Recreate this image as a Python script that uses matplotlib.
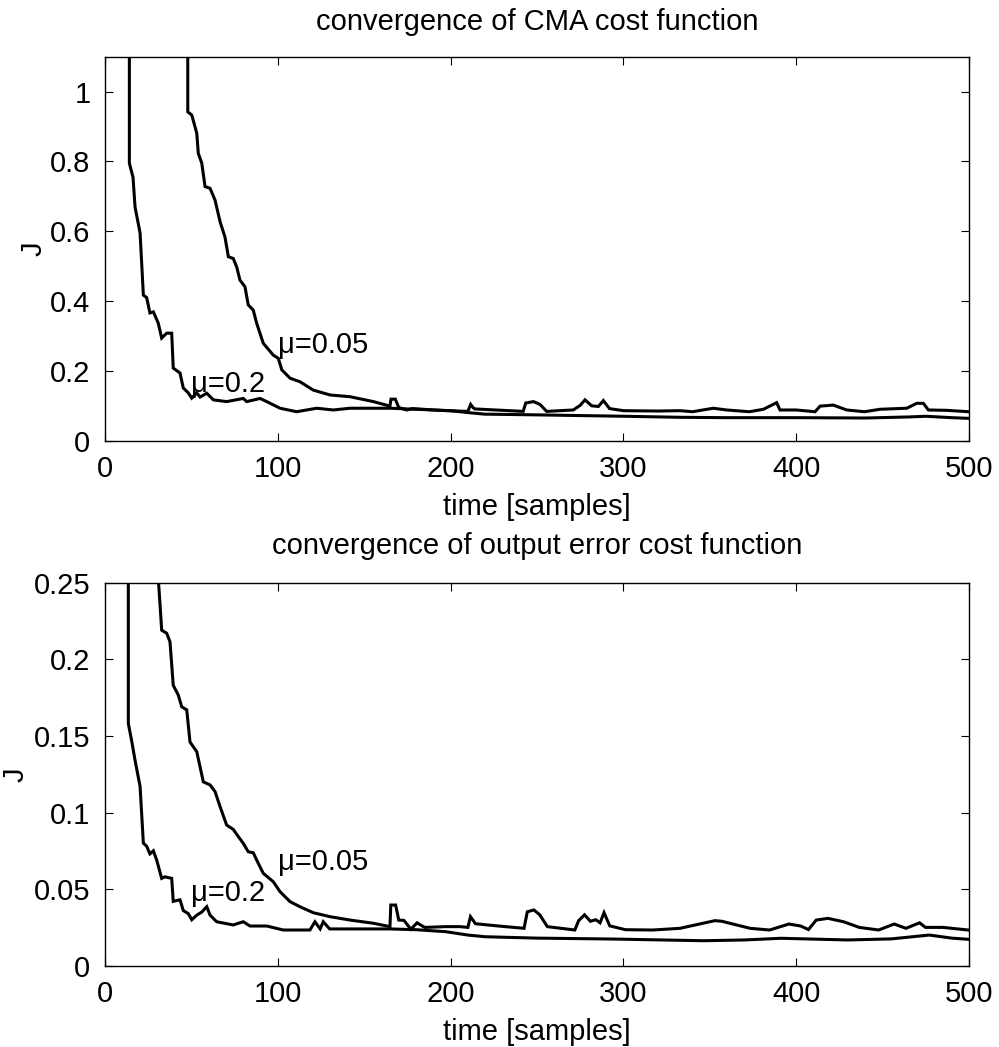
import matplotlib
matplotlib.use("Agg")
import matplotlib.pyplot as plt

plt.rcParams['font.family'] = ['Liberation Sans', 'DejaVu Sans']

# ---------------- data: CMA cost (top) ----------------
cma_x_mu02 = [14.1, 14.1, 16.2, 17.4, 20.3, 22.2, 24.1, 26.0, 28.0, 30.8, 32.8, 35.7, 38.6, 39.5,
              43.4, 45.3, 48.2, 50.2, 53.1, 55.0, 58.9, 62.7, 70.4, 80.0, 82.0, 89.7, 93.6, 101.3,
              110.9, 122.5, 132.1, 141.8, 165.0, 180.0, 200.0, 211.0, 220.0, 250.0, 300.0, 333.0,
              360.0, 400.0, 440.0, 465.0, 475.0, 490.0, 500.0]
cma_y_mu02 = [1.6, 0.795, 0.755, 0.669, 0.595, 0.417, 0.410, 0.366, 0.369, 0.337, 0.294, 0.308, 0.308, 0.208,
              0.194, 0.151, 0.137, 0.122, 0.137, 0.125, 0.136, 0.117, 0.112, 0.121, 0.112, 0.121, 0.112, 0.093,
              0.083, 0.093, 0.088, 0.093, 0.093, 0.090, 0.086, 0.080, 0.076, 0.074, 0.070, 0.067,
              0.066, 0.066, 0.065, 0.068, 0.070, 0.066, 0.064]

cma_x_mu005 = [47.9, 47.9, 50.2, 53.1, 54.0, 56.0, 57.9, 60.8, 63.7, 66.6, 69.4, 71.4, 74.2, 76.2, 78.1,
               81.0, 82.9, 85.8, 87.8, 91.6, 97.4, 100.3, 102.3, 107.1, 112.8, 120.5, 130.2, 141.8, 155.3,
               164.9, 165.5, 168.0, 170.0, 174.6, 178.0, 190.0, 197.7, 210.0, 211.6, 213.0, 214.0, 242.0,
               243.5, 248.0, 251.7, 255.6, 271.0, 274.9, 277.8, 281.6, 285.5, 288.4, 292.0, 300.0, 320.0,
               332.8, 340.0, 352.0, 359.7, 372.9, 381.0, 388.7, 390.6, 400.0, 410.9, 413.8, 421.5, 429.2,
               439.5, 448.5, 464.0, 469.7, 473.6, 476.5, 487.0, 500.0]
cma_y_mu005 = [1.6, 0.942, 0.933, 0.881, 0.823, 0.795, 0.728, 0.723, 0.689, 0.627, 0.584, 0.527, 0.522, 0.498, 0.460,
               0.441, 0.389, 0.374, 0.336, 0.279, 0.245, 0.236, 0.203, 0.179, 0.169, 0.145, 0.131, 0.126, 0.112,
               0.099, 0.119, 0.119, 0.095, 0.088, 0.092, 0.088, 0.086, 0.084, 0.104, 0.095, 0.091, 0.084,
               0.108, 0.112, 0.104, 0.084, 0.088, 0.101, 0.117, 0.100, 0.098, 0.115, 0.092, 0.086, 0.085,
               0.086, 0.083, 0.093, 0.088, 0.083, 0.090, 0.109, 0.088, 0.088, 0.083, 0.099, 0.102, 0.088,
               0.083, 0.090, 0.093, 0.107, 0.107, 0.088, 0.087, 0.083]

# ---------------- data: output error cost (bottom) ----------------
oe_x_mu02 = [13.5, 13.5, 15.4, 17.4, 20.3, 22.2, 24.1, 26.0, 28.0, 29.9, 32.8, 34.7, 38.6, 39.5, 43.4,
             45.3, 48.2, 50.2, 53.1, 56.0, 58.9, 60.8, 64.6, 74.2, 80.0, 83.9, 93.6, 103.2, 118.6, 121.5,
             124.5, 126.3, 130.0, 164.9, 180.0, 197.3, 210.0, 220.0, 250.0, 294.4, 346.2, 370.0, 391.2,
             429.7, 455.0, 477.0, 490.0, 500.0]
oe_y_mu02 = [0.40, 0.158, 0.147, 0.134, 0.117, 0.080, 0.078, 0.073, 0.075, 0.069, 0.057, 0.058, 0.057, 0.042, 0.043,
             0.036, 0.034, 0.030, 0.033, 0.035, 0.0385, 0.033, 0.0287, 0.0266, 0.0287, 0.0259, 0.0259, 0.0233, 0.0233, 0.0287,
             0.024, 0.0287, 0.024, 0.024, 0.0235, 0.0222, 0.020, 0.0189, 0.018, 0.0174, 0.0163, 0.0168, 0.0179,
             0.0168, 0.0175, 0.020, 0.018, 0.0172]

oe_x_mu005 = [28.0, 31.8, 32.8, 35.7, 37.6, 39.5, 42.4, 44.4, 47.3, 49.2, 53.1, 56.9, 60.8, 63.7, 66.6, 70.4,
              74.2, 77.2, 80.0, 82.9, 85.8, 88.7, 91.6, 97.4, 101.3, 107.1, 112.8, 120.5, 130.2, 141.8, 155.3,
              164.9, 165.4, 168.2, 170.0, 173.0, 177.0, 180.6, 185.0, 197.3, 205.4, 210.0, 211.5, 214.4, 226.8,
              242.5, 244.4, 248.2, 251.6, 256.0, 271.9, 274.1, 277.5, 280.9, 284.0, 286.5, 288.8, 292.1, 301.2,
              317.0, 332.8, 344.0, 353.0, 357.0, 373.3, 384.6, 395.8, 402.6, 407.1, 411.6, 418.4, 427.4, 436.5,
              447.7, 456.7, 463.5, 471.4, 474.8, 485.0, 499.5]
oe_y_mu005 = [0.30, 0.2365, 0.219, 0.217, 0.2115, 0.183, 0.1767, 0.169, 0.167, 0.146, 0.1397, 0.120, 0.118, 0.1136, 0.1038, 0.0918,
              0.089, 0.0842, 0.0799, 0.0744, 0.0737, 0.0668, 0.0603, 0.0548, 0.0483, 0.0418, 0.0385, 0.0346, 0.032, 0.0298, 0.0277,
              0.0255, 0.0396, 0.0396, 0.0298, 0.0296, 0.0238, 0.028, 0.025, 0.0255, 0.0255, 0.025, 0.032, 0.0274, 0.026,
              0.0244, 0.0352, 0.0364, 0.0332, 0.0255, 0.0233, 0.0294, 0.0332, 0.029, 0.030, 0.028, 0.0346, 0.026, 0.0235,
              0.0233, 0.0244, 0.0272, 0.0294, 0.0290, 0.0244, 0.0233, 0.0272, 0.0259, 0.0236, 0.0298, 0.0309, 0.0287, 0.025,
              0.0233, 0.0272, 0.0244, 0.028, 0.025, 0.025, 0.0233]

x_ticks = [0, 100, 200, 300, 400, 500]
top_yticks = [0, 0.2, 0.4, 0.6, 0.8, 1.0]
top_yticklabels = ['0', '0.2', '0.4', '0.6', '0.8', '1']
bot_yticks = [0, 0.05, 0.1, 0.15, 0.2, 0.25]
bot_yticklabels = ['0', '0.05', '0.1', '0.15', '0.2', '0.25']

titles = ['convergence of CMA cost function', 'convergence of output error cost function']
xlabel = 'time [samples]'
ylabel = 'J'
labels = ['\u03bc=0.2', '\u03bc=0.05']
top_label_pos = [(50, 0.162), (100, 0.274)]
bot_label_pos = [(50, 0.0475), (100, 0.0675)]

FS = 21
W, H = 999, 1047
fig = plt.figure(figsize=(W / 100, H / 100), dpi=100)
ax1 = fig.add_axes([105 / W, 1 - 440.7 / H, 864 / W, 384 / H])
ax2 = fig.add_axes([105 / W, 1 - 965.7 / H, 864 / W, 383 / H])

specs = [
    (ax1, cma_x_mu02, cma_y_mu02, cma_x_mu005, cma_y_mu005, 1.1, top_yticks, top_yticklabels, top_label_pos, titles[0], -0.066, 19),
    (ax2, oe_x_mu02, oe_y_mu02, oe_x_mu005, oe_y_mu005, 0.25, bot_yticks, bot_yticklabels, bot_label_pos, titles[1], -0.087, 21),
]

for ax, xa, ya, xb, yb, ymax, yt, ytl, lpos, title, ylx, tpad in specs:
    ax.plot(xa, ya, color='black', lw=2.2, solid_joinstyle='miter')
    ax.plot(xb, yb, color='black', lw=2.2, solid_joinstyle='miter')
    ax.set_xlim(0, 500)
    ax.set_ylim(0, ymax)
    ax.set_xticks(x_ticks)
    ax.set_xticklabels([str(v) for v in x_ticks])
    ax.set_yticks(yt)
    ax.set_yticklabels(ytl)
    ax.tick_params(direction='in', length=5.5, width=0.8, top=True, right=True,
                   labelsize=FS)
    ax.tick_params(axis='x', pad=10.5)
    ax.tick_params(axis='y', pad=10.5)
    for s in ax.spines.values():
        s.set_linewidth(1.0)
    ax.set_title(title, fontsize=FS, pad=tpad)
    ax.set_xlabel(xlabel, fontsize=FS, labelpad=7)
    ax.set_ylabel(ylabel, fontsize=FS)
    ax.yaxis.set_label_coords(ylx, 0.5)
    for lab, (tx, ty) in zip(labels, lpos):
        ax.text(tx, ty, lab, fontsize=FS, ha='left', va='center')

fig.savefig('out.png', dpi=100)
